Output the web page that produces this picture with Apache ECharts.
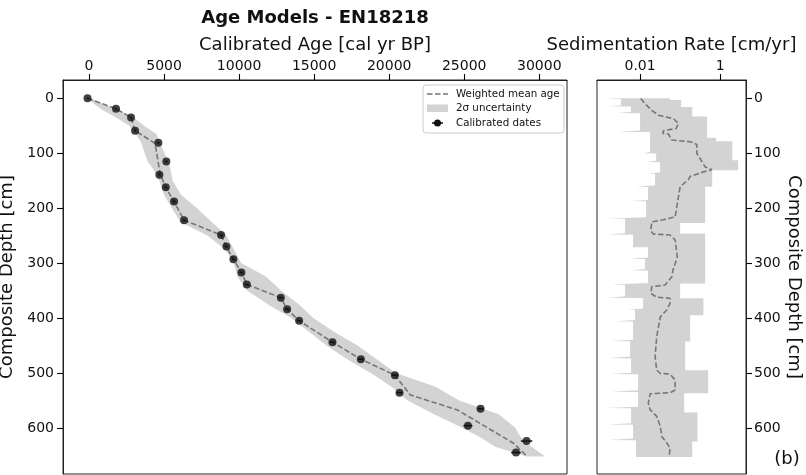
<!DOCTYPE html>
<html><head><meta charset="utf-8">
<script src="https://cdn.jsdelivr.net/npm/echarts@6/dist/echarts.min.js"></script>
<style>html,body{margin:0;padding:0;background:#fff}#c{width:806px;height:475px}</style>
</head><body><div id="c"></div><script>
// ---- tick labels ----
const ageTickValues = [0, 5000, 10000, 15000, 20000, 25000, 30000];
const depthTickValues = [0, 100, 200, 300, 400, 500, 600];
const rateTickValues = [0.01, 1];
const rateTickLabels = ['0.01', '1'];

// ---- calibrated dates ----
const dateDepth = [0, 19, 35, 59, 81, 115, 139, 162, 188, 222, 249, 270, 293, 317, 339, 363, 384, 405, 444, 475, 504, 536, 565, 596, 624, 645];
const dateAge = [-100, 1800, 2800, 3067, 4620, 5153, 4687, 5113, 5667, 6333, 8800, 9153, 9620, 10153, 10513, 12780, 13200, 14000, 16220, 18113, 20380, 20687, 26087, 25247, 29153, 28447];
const dateErr = [30, 60, 60, 70, 80, 90, 80, 90, 100, 100, 120, 120, 130, 130, 130, 150, 150, 150, 170, 180, 200, 200, 220, 300, 380, 320];

// ---- weighted mean age ----
const meanDepth = [0, 19, 35, 59, 82, 115, 137, 162, 188, 222, 249, 270, 293, 317, 339, 363, 384, 405, 444, 475, 504, 540, 567, 592, 628, 652];
const meanAge = [-100, 1800, 2800, 3067, 4400, 4600, 4733, 5113, 5667, 6333, 8800, 9153, 9620, 10153, 10513, 12780, 13200, 14000, 16220, 18113, 20380, 21400, 24513, 26067, 28287, 29180];

// ---- 2 sigma band (age) ----
const bandDepth = [0, 10, 20, 35, 50, 65, 80, 100, 115, 130, 150, 175, 200, 225, 250, 275, 300, 325, 350, 375, 400, 425, 450, 475, 500, 525, 550, 575, 600, 616, 635, 652];
const bandMinAge = [-100, 325, 816, 1798, 2681, 3122, 3466, 3711, 3907, 4300, 4692, 4987, 5527, 6100, 7882, 9059, 9648, 9893, 10531, 11905, 13475, 14653, 15830, 17204, 18774, 20148, 21228, 22994, 24859, 26000, 27100, 29176];
const bandMaxAge = [100, 914, 1896, 2975, 3662, 4496, 4692, 5036, 5281, 5428, 5575, 6115, 7195, 8176, 9157, 9648, 10139, 11807, 12788, 13966, 14947, 16321, 17891, 19167, 20442, 23092, 24662, 27300, 28400, 28750, 29500, 30402];

// ---- sedimentation rate: mean ----
const srMeanDepth = [0.5, 10, 22, 31, 37, 46, 55, 59, 64, 65, 76, 79, 84, 100, 125, 130, 134, 142, 148, 161, 191, 216, 221, 225, 240, 247, 249, 258, 289, 313, 325, 340, 343, 355, 362, 364, 373, 385, 398, 434, 470, 495, 501, 502, 513, 531, 536, 538, 555, 567, 579, 598, 616, 628, 637, 652];
const srMeanRate = [0.0104, 0.0133, 0.0196, 0.029, 0.068, 0.091, 0.079, 0.038, 0.037, 0.051, 0.062, 0.178, 0.26, 0.26, 0.42, 0.62, 0.38, 0.178, 0.16, 0.1, 0.085, 0.075, 0.038, 0.0196, 0.0185, 0.021, 0.056, 0.075, 0.085, 0.066, 0.062, 0.042, 0.0196, 0.0185, 0.026, 0.056, 0.056, 0.047, 0.032, 0.026, 0.0237, 0.026, 0.032, 0.056, 0.075, 0.075, 0.056, 0.0178, 0.016, 0.0178, 0.026, 0.032, 0.035, 0.047, 0.056, 0.053];

// ---- sedimentation rate: lower edge of band ----
const srMinDepth = [0, 1.5, 12.5, 14.5, 15, 24.5, 26.7, 27.2, 58.5, 61, 61.5, 98, 100, 100.5, 113.5, 116, 116.5, 134.5, 137, 137.5, 158.5, 161, 161.5, 185, 187, 187.5, 216.5, 219, 219.5, 245.5, 248, 248.5, 271, 271.2, 290, 292, 292.5, 311, 313, 313.5, 336.5, 339, 339.5, 360.5, 363, 363.5, 382.5, 385, 385.5, 403.5, 406, 406.5, 439.5, 442, 442.5, 470.5, 473, 473.5, 499.5, 502, 502.5, 531.5, 534, 534.5, 561.5, 564, 564.5, 591.5, 594, 594.5, 619.5, 622, 622.5, 653];
const srMinRate = [0.00141, 0.00335, 0.00335, 0.00158, 0.00596, 0.00596, 0.00282, 0.01, 0.01, 0.00282, 0.0178, 0.0178, 0.0119, 0.0251, 0.0251, 0.0133, 0.0316, 0.0316, 0.0158, 0.0237, 0.0237, 0.00794, 0.0158, 0.0158, 0.00596, 0.0141, 0.0141, 0.00158, 0.00422, 0.00422, 0.00158, 0.00668, 0.00668, 0.0158, 0.0158, 0.00562, 0.0133, 0.0133, 0.00596, 0.0158, 0.0158, 0.00188, 0.00422, 0.00422, 0.00158, 0.0119, 0.0119, 0.00501, 0.0075, 0.0075, 0.00251, 0.00668, 0.00668, 0.00178, 0.00562, 0.00562, 0.00158, 0.00596, 0.00596, 0.00178, 0.00891, 0.00891, 0.00188, 0.00891, 0.00891, 0.00133, 0.00596, 0.00596, 0.00158, 0.00668, 0.00668, 0.00158, 0.00794, 0.00794];

// ---- sedimentation rate: upper edge of band (steps) ----
const srMaxDepth = [0, 3, 16, 33, 72, 78, 113, 131, 161, 227, 246, 337, 364, 395, 443, 495, 537, 572, 625, 653];
const srMaxRate = [0.056, 0.106, 0.2, 0.47, 0.79, 2.0, 2.8, 0.63, 0.42, 0.1, 0.42, 0.1, 0.38, 0.178, 0.133, 0.5, 0.126, 0.27, 0.2];

// ---- build ----
const FONT = 'DejaVu Sans';
const TXT = '#111';
const AX = '#222';
const BAND = '#d3d3d3';
const LINEC = '#777777';

const ageMin = -1733, ageMax = 31847;
const lrMin = -3.075, lrMax = 0.6425;
const depthMin = -33.3, depthMax = 684;

const agePoly = [];
bandDepth.forEach((d, i) => agePoly.push([bandMinAge[i], d]));
for (let i = bandDepth.length - 1; i >= 0; i--) agePoly.push([bandMaxAge[i], bandDepth[i]]);

const lg = Math.log10;
const srPoly = [];
srMinDepth.forEach((d, i) => srPoly.push([lg(srMinRate[i]), d]));
for (let i = srMaxRate.length - 1; i >= 0; i--) {
  srPoly.push([lg(srMaxRate[i]), srMaxDepth[i + 1]]);
  srPoly.push([lg(srMaxRate[i]), srMaxDepth[i]]);
}

function polySeries(pts, xi, yi) {
  return {
    type: 'custom', xAxisIndex: xi, yAxisIndex: yi, z: 1, silent: true, clip: true,
    data: [pts[0]], encode: { x: 0, y: 1 },
    renderItem: (params, api) => ({
      type: 'polygon',
      shape: { points: pts.map(p => api.coord(p)) },
      style: { fill: BAND, stroke: null }
    })
  };
}

// outward tick marks drawn through the axes (custom series, not clipped)
function tickSeries(xi, yi, pts, dx, dy) {
  return {
    type: 'custom', xAxisIndex: xi, yAxisIndex: yi, z: 20, zlevel: 1, silent: true, clip: false,
    data: pts, encode: { x: 0, y: 1 },
    renderItem: (params, api) => {
      const p = api.coord([api.value(0), api.value(1)]);
      const x = dy !== 0 ? Math.round(p[0]) + 0.5 : p[0];
      const y = dx !== 0 ? Math.round(p[1]) + 0.5 : p[1];
      return { type: 'line', shape: { x1: x, y1: y, x2: x + dx, y2: y + dy }, style: { stroke: '#000', lineWidth: 1.1 } };
    }
  };
}

const plain = v => String(v);
const axLine = { show: true, onZero: false, lineStyle: { color: AX, width: 1 } };

const chart = echarts.init(document.getElementById('c'), null, { renderer: 'canvas' });
chart.setOption({
  animation: false,
  backgroundColor: '#fff',
  textStyle: { fontFamily: FONT },
  title: {
    text: 'Age Models - EN18218', left: 315, top: 9, textAlign: 'center', padding: 0,
    textStyle: { fontFamily: FONT, fontSize: 18, fontWeight: 'bold', color: TXT }
  },
  grid: [
    { left: 63, top: 80, width: 504, height: 394, show: true, borderColor: AX, borderWidth: 1, backgroundColor: 'transparent', outerBoundsMode: 'none' },
    { left: 597, top: 80, width: 149, height: 394, show: true, borderColor: AX, borderWidth: 1, backgroundColor: 'transparent', outerBoundsMode: 'none' }
  ],
  xAxis: [
    {
      gridIndex: 0, type: 'value', position: 'top', min: ageMin, max: ageMax,
      name: 'Calibrated Age [cal yr BP]', nameLocation: 'middle', nameGap: 26,
      nameTextStyle: { fontFamily: FONT, fontSize: 18, color: TXT },
      axisLine: axLine, axisTick: { show: false },
      axisLabel: { customValues: ageTickValues, margin: 7, fontSize: 14, color: TXT, fontFamily: FONT, formatter: plain },
      splitLine: { show: false }
    },
    {
      gridIndex: 1, type: 'value', position: 'top', min: lrMin, max: lrMax,
      name: 'Sedimentation Rate [cm/yr]', nameLocation: 'middle', nameGap: 26,
      nameTextStyle: { fontFamily: FONT, fontSize: 18, color: TXT },
      axisLine: axLine, axisTick: { show: false },
      axisLabel: {
        customValues: rateTickValues.map(lg), margin: 7, fontSize: 14, color: TXT, fontFamily: FONT,
        formatter: v => { const i = rateTickValues.findIndex(t => Math.abs(lg(t) - v) < 1e-6); return i >= 0 ? rateTickLabels[i] : ''; }
      },
      splitLine: { show: false }
    }
  ],
  yAxis: [
    {
      gridIndex: 0, type: 'value', inverse: true, min: depthMin, max: depthMax, position: 'left',
      name: 'Composite Depth [cm]', nameLocation: 'middle', nameGap: 30,
      nameTextStyle: { fontFamily: FONT, fontSize: 18, color: TXT },
      axisLine: axLine, axisTick: { show: false },
      axisLabel: { customValues: depthTickValues, margin: 9, fontSize: 14, color: TXT, fontFamily: FONT, formatter: plain },
      splitLine: { show: false }
    },
    {
      gridIndex: 1, type: 'value', inverse: true, min: depthMin, max: depthMax, position: 'right',
      name: 'Composite Depth [cm]', nameLocation: 'middle', nameGap: 37, nameRotate: -90,
      nameTextStyle: { fontFamily: FONT, fontSize: 18, color: TXT },
      axisLine: axLine, axisTick: { show: false },
      axisLabel: { customValues: depthTickValues, margin: 8, fontSize: 14, color: TXT, fontFamily: FONT, formatter: plain },
      splitLine: { show: false }
    }
  ],
  series: [
    polySeries(agePoly, 0, 0),
    {
      type: 'line', xAxisIndex: 0, yAxisIndex: 0, z: 2, silent: true, showSymbol: false, symbol: 'none',
      data: meanAge.map((a, i) => [a, meanDepth[i]]),
      lineStyle: { color: LINEC, width: 1.6, type: [5.5, 2.5] }
    },
    {
      type: 'custom', xAxisIndex: 0, yAxisIndex: 0, z: 3, silent: true,
      data: dateAge.map((a, i) => [a, dateDepth[i], dateErr[i]]), encode: { x: 0, y: 1 },
      renderItem: (params, api) => {
        const a = api.value(0), d = api.value(1), e = api.value(2);
        const p1 = api.coord([a - e, d]), p2 = api.coord([a + e, d]);
        return { type: 'line', shape: { x1: p1[0], y1: p1[1], x2: p2[0], y2: p2[1] }, style: { stroke: '#111', lineWidth: 1.5 } };
      }
    },
    {
      type: 'scatter', xAxisIndex: 0, yAxisIndex: 0, z: 4, silent: true,
      symbol: 'circle', symbolSize: 8,
      data: dateAge.map((a, i) => [a, dateDepth[i]]),
      itemStyle: { color: '#111' }
    },
    polySeries(srPoly, 1, 1),
    {
      type: 'line', xAxisIndex: 1, yAxisIndex: 1, z: 2, silent: true, showSymbol: false, symbol: 'none',
      data: srMeanRate.map((r, i) => [lg(r), srMeanDepth[i]]),
      lineStyle: { color: LINEC, width: 1.6, type: [5.5, 2.5] }
    },
    tickSeries(0, 0, ageTickValues.map(a => [a, depthMin]), 0, -6),
    tickSeries(0, 0, depthTickValues.map(d => [ageMin, d]), -6, 0),
    tickSeries(1, 1, rateTickValues.map(r => [lg(r), depthMin]), 0, -6),
    tickSeries(1, 1, depthTickValues.map(d => [lrMax, d]), 6, 0)
  ],
  graphic: [
    { type: 'rect', shape: { x: 423, y: 85, width: 141, height: 48, r: 3 }, style: { fill: 'rgba(255,255,255,0.85)', stroke: '#cccccc', lineWidth: 1 }, z: 10 },
    { type: 'line', shape: { x1: 427, y1: 94, x2: 448, y2: 94 }, style: { stroke: LINEC, lineWidth: 1.5, lineDash: [5.5, 2.5] }, z: 11 },
    { type: 'rect', shape: { x: 427, y: 104.5, width: 21, height: 7.5 }, style: { fill: BAND }, z: 11 },
    { type: 'line', shape: { x1: 432, y1: 123, x2: 443, y2: 123 }, style: { stroke: '#111', lineWidth: 1.5 }, z: 11 },
    { type: 'circle', shape: { cx: 437.5, cy: 123, r: 3.5 }, style: { fill: '#111' }, z: 11 },
    { type: 'text', x: 456, y: 94, style: { text: 'Weighted mean age', font: '10.3px "DejaVu Sans"', fill: TXT, verticalAlign: 'middle' }, z: 11 },
    { type: 'text', x: 456, y: 108.5, style: { text: '2σ uncertainty', font: '10.3px "DejaVu Sans"', fill: TXT, verticalAlign: 'middle' }, z: 11 },
    { type: 'text', x: 456, y: 123, style: { text: 'Calibrated dates', font: '10.3px "DejaVu Sans"', fill: TXT, verticalAlign: 'middle' }, z: 11 },
    { type: 'text', x: 787, y: 459, style: { text: '(b)', font: '18px "DejaVu Sans"', fill: TXT, align: 'center', verticalAlign: 'middle' }, z: 11 }
  ]
});
</script></body></html>
